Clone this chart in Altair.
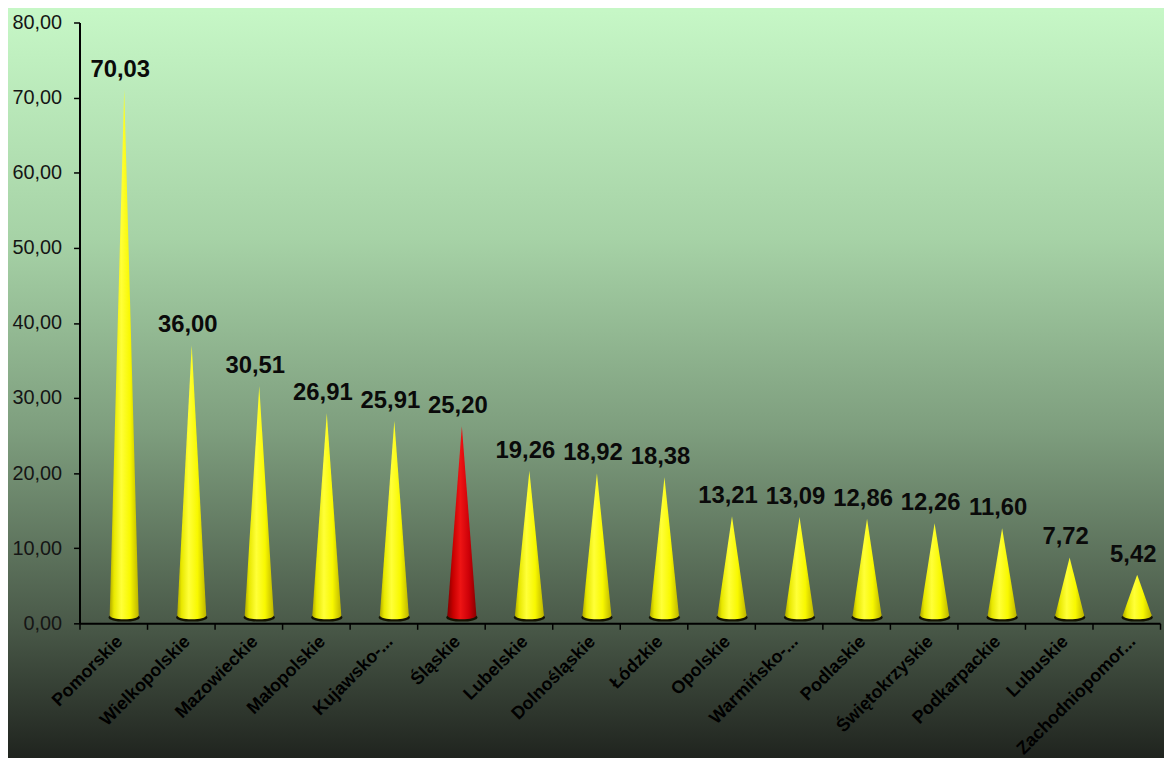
import altair as alt
import pandas as pd

regions = ["Pomorskie", "Wielkopolskie", "Mazowieckie", "Małopolskie", "Kujawsko-...",
           "Śląskie", "Lubelskie", "Dolnośląskie", "Łódzkie", "Opolskie",
           "Warmińsko-...", "Podlaskie", "Świętokrzyskie", "Podkarpackie", "Lubuskie",
           "Zachodniopomor..."]
values = [70.03, 36.00, 30.51, 26.91, 25.91, 25.20, 19.26, 18.92, 18.38, 13.21,
          13.09, 12.86, 12.26, 11.60, 7.72, 5.42]
highlight = "Śląskie"
y_ticks = [0, 10, 20, 30, 40, 50, 60, 70, 80]

HALF = 0.215  # half cone base width in category units (style)

df = pd.DataFrame({"region": regions, "value": values, "idx": list(range(len(regions)))})
df["hl"] = df["region"] == highlight

rows = []
for i, (r, v) in enumerate(zip(regions, values)):
    h = r == highlight
    rows.append({"region": r, "xi": i - HALF, "yv": 0.0, "hl": h})
    rows.append({"region": r, "xi": i, "yv": v, "hl": h})
    rows.append({"region": r, "xi": i + HALF, "yv": 0.0, "hl": h})
cones = pd.DataFrame(rows)

W, H = 1088, 605
FONT = "Liberation Sans"

def hgrad(stops):
    return {"gradient": "linear", "x1": 0, "y1": 0, "x2": 1, "y2": 0,
            "stops": [{"offset": o, "color": c} for o, c in stops]}

yellow = hgrad([(0, "#b0a800"), (0.15, "#e8e800"), (0.4, "#ffff38"), (0.7, "#f8f800"), (1, "#bcb400")])
red = hgrad([(0, "#800000"), (0.2, "#c80000"), (0.45, "#ee1414"), (0.75, "#cc0008"), (1, "#880000")])
bg_grad = {"gradient": "linear", "x1": 0, "y1": 0, "x2": 0, "y2": 1,
           "stops": [{"offset": 0, "color": "#c6f7c6"},
                     {"offset": 0.3, "color": "#a6d2a6"},
                     {"offset": 0.55, "color": "#7e9e7e"},
                     {"offset": 0.8, "color": "#4b5b4a"},
                     {"offset": 1, "color": "#1b1e1a"}]}

xq = alt.Scale(domain=[-0.5, len(regions) - 0.5], nice=False, zero=False)
ys = alt.Scale(domain=[0, 80], nice=False)

y_axis = alt.Axis(title=None, orient="left", values=y_ticks, grid=False,
                  labelFont=FONT, labelFontSize=20, labelColor="#151515",
                  tickSize=6, tickColor="#000000", tickWidth=1.5, labelPadding=12,
                  domainColor="#000000", domainWidth=2, zindex=2,
                  labelExpr="replace(format(datum.value, '.2f'), '.', ',')")

ELL = "M-1,0A1,0.27,0,1,1,1,0A1,0.27,0,1,1,-1,0Z"

bg = alt.Chart(pd.DataFrame({"a": [0]})).mark_rect(fill=bg_grad).encode(
    x=alt.value(-80), x2=alt.value(W + 20), y=alt.value(-12), y2=alt.value(H + 150)
)

dark_ell = alt.Chart(df).mark_point(shape=ELL, filled=True, size=1000, fill="#151505",
                                    opacity=1, strokeWidth=0, xOffset=11, yOffset=-6).encode(
    x=alt.X("idx:Q", scale=xq, axis=None),
    y=alt.Y("zero:Q", scale=ys, axis=y_axis),
).transform_calculate(zero="0")

def ell(fill, cond):
    return alt.Chart(df).mark_point(shape=ELL, filled=True, size=841, fill=fill,
                                    opacity=1, strokeWidth=0, xOffset=11, yOffset=-8).encode(
        x=alt.X("idx:Q", scale=xq, axis=None),
        y=alt.Y("zero:Q", scale=ys, axis=y_axis),
    ).transform_filter(cond).transform_calculate(zero="0")

def cone(fill, cond):
    return alt.Chart(cones).mark_area(fill=fill, xOffset=11, yOffset=-8, y2Offset=-8,
                                      opacity=1, orient="vertical").encode(
        x=alt.X("xi:Q", scale=xq, axis=None),
        y=alt.Y("yv:Q", scale=ys, stack=None, axis=y_axis),
        y2=alt.Y2("base:Q"),
        detail="region:N",
    ).transform_filter(cond).transform_calculate(base="0")

text = alt.Chart(df).mark_text(font=FONT, fontSize=24, fontWeight="bold", color="#0a0a0a",
                               baseline="alphabetic", dx=7, dy=-21).encode(
    x=alt.X("region:N", sort=regions,
            scale=alt.Scale(paddingInner=0, paddingOuter=0),
            axis=alt.Axis(title=None, orient="bottom", labelAngle=-45, labelFont=FONT,
                          labelFontSize=18, labelFontWeight="bold", labelColor="#000000",
                          tickBand="extent", tickSize=6, tickColor="#000000", tickWidth=1.5,
                          labelPadding=3, domainColor="#000000", domainWidth=2,
                          labelLimit=220, zindex=2)),
    y=alt.Y("value:Q", scale=ys, axis=y_axis),
    text="label:N",
).transform_calculate(label="replace(format(datum.value, '.2f'), '.', ',')")

chart = alt.layer(
    bg,
    dark_ell,
    ell(yellow, "!datum.hl"),
    ell(red, "datum.hl"),
    cone(yellow, "!datum.hl"),
    cone(red, "datum.hl"),
    text,
).resolve_scale(x="independent").properties(
    width=W, height=H,
    autosize=alt.AutoSizeParams(type="none"),
    padding={"left": 72, "top": 12, "right": 4, "bottom": 133},
    background="#c6f7c6",
).configure_view(stroke=None)

chart.save("out.html", embed_options={"renderer": "svg", "actions": False})
